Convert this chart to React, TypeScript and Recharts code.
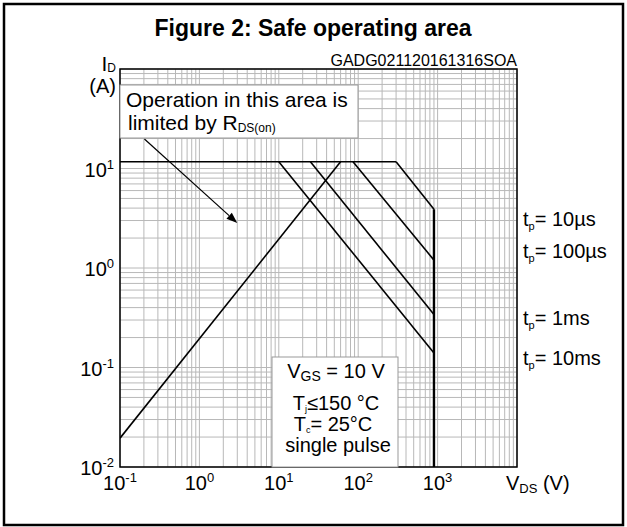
import React from "react";
import { LineChart, Line, XAxis, YAxis, CartesianGrid, ReferenceArea, ReferenceLine } from "recharts";

// ---- data (V in volts, I in amperes) ----
const currentLimit = [
  { v: 0.1, i: 11.7 },
  { v: 300, i: 11.7 },
];
const rdsOnLimit = [
  { v: 0.1, i: 0.0195 },
  { v: 60, i: 11.7 },
];
const tp10us = [
  { v: 300, i: 11.7 },
  { v: 900, i: 3.9 },
];
const tp100us = [
  { v: 86, i: 11.7 },
  { v: 900, i: 1.2 },
];
const tp1ms = [
  { v: 25, i: 11.7 },
  { v: 900, i: 0.34 },
];
const tp10ms = [
  { v: 10, i: 11.7 },
  { v: 900, i: 0.14 },
];
const breakdownLimit = [
  { v: 900, i: 3.9 },
  { v: 900, i: 0.01 },
];
const arrowStart = { v: 0.203, i: 19.8 };
const arrowEnd = { v: 3.0, i: 2.83 };

const X_DOMAIN = [0.1, 10000];
const Y_DOMAIN = [0.01, 100];
const X_LABEL_EXPONENTS = [-1, 0, 1, 2, 3];
const Y_LABEL_EXPONENTS = [-2, -1, 0, 1];
const X_DECADES = [-1, 0, 1, 2, 3];
const Y_DECADES = [-2, -1, 0, 1];
const MINOR_STEPS = [1, 2, 3, 4, 5, 6, 7, 8, 9];
const PULSE_LABELS = ["= 10µs", "= 100µs", "= 1ms", "= 10ms"];

const buildTicks = (decades: number[], last: number) => {
  const out: number[] = [];
  decades.forEach((e) => MINOR_STEPS.forEach((m) => out.push(Number((m * Math.pow(10, e)).toPrecision(6)))));
  out.push(last);
  return out;
};
const X_TICKS = buildTicks(X_DECADES, 10000);
const Y_TICKS = buildTicks(Y_DECADES, 100);

const FONT = "'Liberation Sans', Arial, Helvetica, sans-serif";

const exponentOf = (v: number) => {
  const l = Math.log10(v);
  const r = Math.round(l);
  return Math.abs(l - r) < 1e-6 ? r : null;
};

const XTick = (props: any) => {
  const { x, y, payload } = props;
  const e = exponentOf(payload.value);
  if (e === null || !X_LABEL_EXPONENTS.includes(e)) return <g />;
  return (
    <text x={x} y={y + 23} textAnchor="middle" fontFamily={FONT} fontSize={20} fill="#000">
      <tspan>10</tspan>
      <tspan dy={-8} fontSize={13}>{e < 0 ? "-" + Math.abs(e) : String(e)}</tspan>
    </text>
  );
};

const YTick = (props: any) => {
  const { x, y, payload } = props;
  const e = exponentOf(payload.value);
  if (e === null || !Y_LABEL_EXPONENTS.includes(e)) return <g />;
  return (
    <text x={x} y={y + 8} textAnchor="end" fontFamily={FONT} fontSize={20} fill="#000">
      <tspan>10</tspan>
      <tspan dy={-8} fontSize={13}>{e < 0 ? "-" + Math.abs(e) : String(e)}</tspan>
    </text>
  );
};

const ArrowShape = (props: any) => {
  const { x1, y1, x2, y2 } = props;
  if ([x1, y1, x2, y2].some((n) => n === undefined || isNaN(n))) return <g />;
  const ang = Math.atan2(y2 - y1, x2 - x1);
  const len = 11;
  const half = 4;
  const bx = x2 - len * Math.cos(ang);
  const by = y2 - len * Math.sin(ang);
  const px = -Math.sin(ang) * half;
  const py = Math.cos(ang) * half;
  return (
    <g>
      <line x1={x1} y1={y1} x2={bx} y2={by} stroke="#000" strokeWidth={1.2} />
      <polygon points={`${x2},${y2} ${bx + px},${by + py} ${bx - px},${by - py}`} fill="#000" />
    </g>
  );
};

const seriesList = [
  { name: "currentLimit", data: currentLimit, w: 1.6 },
  { name: "rdsOn", data: rdsOnLimit, w: 1.6 },
  { name: "tp10us", data: tp10us, w: 1.6 },
  { name: "tp100us", data: tp100us, w: 1.6 },
  { name: "tp1ms", data: tp1ms, w: 1.6 },
  { name: "tp10ms", data: tp10ms, w: 1.6 },
  { name: "bvdss", data: breakdownLimit, w: 2.4 },
];

const PULSE_Y = [226, 258, 325, 365];

export default function App() {
  return (
    <div style={{ position: "absolute", left: 0, top: 0, width: 627, height: 527, background: "#fff" }}>
      <LineChart width={627} height={527} margin={{ top: 69, right: 110, bottom: 30, left: 60 }}>
        <CartesianGrid stroke="#b8b8b8" strokeWidth={1} />
        <XAxis
          dataKey="v"
          type="number"
          scale="log"
          domain={X_DOMAIN}
          ticks={X_TICKS}
          allowDataOverflow
          interval={0}
          height={30}
          tickSize={0}
          tickMargin={0}
          axisLine={false}
          tick={<XTick />}
        />
        <YAxis
          dataKey="i"
          type="number"
          scale="log"
          domain={Y_DOMAIN}
          ticks={Y_TICKS}
          allowDataOverflow
          interval={0}
          width={60}
          tickSize={0}
          tickMargin={6}
          axisLine={false}
          tick={<YTick />}
        />
        <ReferenceArea x1={X_DOMAIN[0]} x2={X_DOMAIN[1]} y1={Y_DOMAIN[0]} y2={Y_DOMAIN[1]} fill="none" stroke="#000" strokeWidth={1.5} fillOpacity={0} />
        {seriesList.map((s) => (
          <Line
            key={s.name}
            data={s.data}
            dataKey="i"
            type="linear"
            stroke="#000"
            strokeWidth={s.w}
            dot={false}
            activeDot={false}
            isAnimationActive={false}
          />
        ))}
        <ReferenceLine
          segment={[
            { x: arrowStart.v, y: arrowStart.i },
            { x: arrowEnd.v, y: arrowEnd.i },
          ]}
          shape={<ArrowShape />}
          ifOverflow="visible"
        />
      </LineChart>
      <svg width={627} height={527} style={{ position: "absolute", left: 0, top: 0, pointerEvents: "none" }} fontFamily={FONT}>
        <rect x={4} y={4} width={619} height={521} fill="none" stroke="#000" strokeWidth={2.5} />
        <text x={313} y={36} textAnchor="middle" fontSize={23} fontWeight="bold" fill="#000">
          Figure 2: Safe operating area
        </text>
        <text x={517} y={66} textAnchor="end" fontSize={16} fill="#000">GADG021120161316SOA</text>
        <text x={116} y={71} textAnchor="end" fontSize={21} fill="#000">
          <tspan>I</tspan>
          <tspan fontSize={12} dy={1}>D</tspan>
        </text>
        <text x={116} y={93} textAnchor="end" fontSize={20} fill="#000">(A)</text>

        <rect x={120} y={85} width={238} height={53} fill="#fff" stroke="#999" strokeWidth={1} />
        <text x={126} y={107} fontSize={21} fill="#000">Operation in this area is</text>
        <text x={128} y={130} fontSize={21} fill="#000">
          <tspan>limited by R</tspan>
          <tspan fontSize={12} dy={2}>DS(on)</tspan>
        </text>

        <rect x={272} y={357} width={126} height={110} fill="#fff" stroke="#999" strokeWidth={1} />
        <text x={336} y={378} textAnchor="middle" fontSize={20} fill="#000">
          <tspan>V</tspan>
          <tspan fontSize={14} dy={3}>GS</tspan>
          <tspan dy={-3}> = 10 V</tspan>
        </text>
        <text x={336} y={410} textAnchor="middle" fontSize={20} fill="#000">
          <tspan>T</tspan>
          <tspan fontSize={9} dy={2}>j</tspan>
          <tspan dy={-2}>≤150 °C</tspan>
        </text>
        <text x={333} y={431} textAnchor="middle" fontSize={20} fill="#000">
          <tspan>T</tspan>
          <tspan fontSize={9} dy={2}>c</tspan>
          <tspan dy={-2}>= 25°C</tspan>
        </text>
        <text x={338} y={452} textAnchor="middle" fontSize={20} fill="#000">single pulse</text>

        {PULSE_LABELS.map((t, k) => (
          <text key={t} x={523} y={PULSE_Y[k]} fontSize={20} fill="#000">
            <tspan>t</tspan>
            <tspan fontSize={11} dy={4}>p</tspan>
            <tspan dy={-4}>{t}</tspan>
          </text>
        ))}

        <text x={506} y={490} fontSize={20} fill="#000">
          <tspan>V</tspan>
          <tspan fontSize={13} dy={3}>DS</tspan>
          <tspan dy={-3}> (V)</tspan>
        </text>
      </svg>
    </div>
  );
}
